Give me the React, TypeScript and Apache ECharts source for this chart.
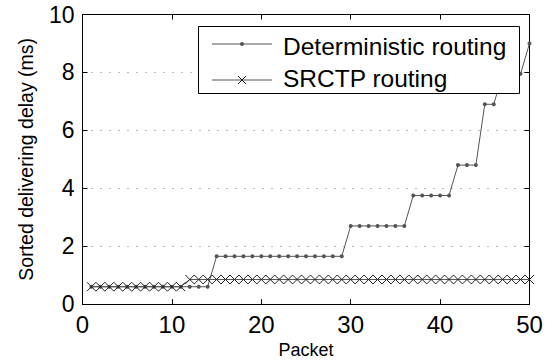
import React, { useEffect, useRef } from "react";
import * as echarts from "echarts";

const xTicks = [0, 10, 20, 30, 40, 50];
const yTicks = [0, 2, 4, 6, 8, 10];
const seriesNames = ["Deterministic routing", "SRCTP routing"];
const deterministic = [
  0.6, 0.6, 0.6, 0.6, 0.6, 0.6, 0.6, 0.6, 0.6, 0.6, 0.6, 0.6, 0.6, 0.6,
  1.65, 1.65, 1.65, 1.65, 1.65, 1.65, 1.65, 1.65, 1.65, 1.65, 1.65, 1.65, 1.65, 1.65, 1.65,
  2.7, 2.7, 2.7, 2.7, 2.7, 2.7, 2.7,
  3.75, 3.75, 3.75, 3.75, 3.75,
  4.8, 4.8, 4.8,
  6.9, 6.9,
  7.95, 7.95, 7.95,
  9.0,
];
const srctp = [
  0.6, 0.6, 0.6, 0.6, 0.6, 0.6, 0.6, 0.6, 0.6, 0.6, 0.6,
  0.85, 0.85, 0.85, 0.85, 0.85, 0.85, 0.85, 0.85, 0.85, 0.85,
  0.85, 0.85, 0.85, 0.85, 0.85, 0.85, 0.85, 0.85, 0.85, 0.85,
  0.85, 0.85, 0.85, 0.85, 0.85, 0.85, 0.85, 0.85, 0.85, 0.85,
  0.85, 0.85, 0.85, 0.85, 0.85, 0.85, 0.85, 0.85, 0.85,
];

const FONT = "'Liberation Sans', Arial, Helvetica, sans-serif";
const LINE = "#555555";
const X_SYMBOL = "path://M0,0L10,10M0,10L10,0";

export default function App() {
  const ref = useRef<HTMLDivElement>(null);
  useEffect(() => {
    if (!ref.current) return;
    document.body.style.margin = "0";
    const chart = echarts.init(ref.current, undefined, { renderer: "svg" });
    const gridBox = { left: 82.5, right: 22.5, top: 14.5, bottom: 58 };
    const xCommon = {
      type: "value" as const,
      min: xTicks[0],
      max: xTicks[xTicks.length - 1],
      interval: 10,
      axisLine: { show: true, onZero: false, lineStyle: { color: "#000", width: 1 } },
      axisTick: { show: true, inside: true, length: 5, lineStyle: { color: "#000" } },
      splitLine: { show: false },
    };
    const yCommon = {
      type: "value" as const,
      min: yTicks[0],
      max: yTicks[yTicks.length - 1],
      interval: 2,
      axisLine: { show: true, onZero: false, lineStyle: { color: "#000", width: 1 } },
      axisTick: { show: true, inside: true, length: 5, lineStyle: { color: "#000" } },
    };
    const Z = 100;
    chart.setOption({
      animation: false,
      backgroundColor: "#fff",
      grid: { ...gridBox, containLabel: false },
      xAxis: [
        {
          ...xCommon,
          position: "bottom",
          name: "Packet",
          nameLocation: "middle",
          nameGap: 36,
          nameTextStyle: { fontFamily: FONT, fontSize: 18, color: "#000" },
          axisLabel: { fontFamily: FONT, fontSize: 24, color: "#000", margin: 8 },
        },
        { ...xCommon, position: "top", axisLabel: { show: false } },
      ],
      yAxis: [
        {
          ...yCommon,
          position: "left",
          name: "Sorted delivering delay (ms)",
          nameLocation: "middle",
          nameGap: 47,
          nameTextStyle: { fontFamily: FONT, fontSize: 19.5, color: "#000" },
          axisLabel: { fontFamily: FONT, fontSize: 23, color: "#000", margin: 8 },
          splitLine: {
            show: true,
            lineStyle: { color: "#777", type: [1, 8], width: 1 },
          },
        },
        {
          ...yCommon,
          position: "right",
          axisLabel: { show: false },
          splitLine: { show: false },
        },
      ],
      series: [
        {
          name: seriesNames[0],
          type: "line",
          data: deterministic.map((v, i) => [i + 1, v]),
          symbol: "circle",
          symbolSize: 4,
          itemStyle: { color: LINE },
          lineStyle: { color: LINE, width: 1 },
          z: 3,
        },
        {
          name: seriesNames[1],
          type: "line",
          data: srctp.map((v, i) => [i + 1, v]),
          symbol: X_SYMBOL,
          symbolSize: 9,
          itemStyle: { color: "none", borderColor: "#222", borderWidth: 1 },
          lineStyle: { color: LINE, width: 1 },
          z: 4,
        },
      ],
      graphic: [
        {
          type: "rect",
          z: Z,
          shape: { x: 198.5, y: 26.5, width: 321, height: 67 },
          style: { fill: "#fff", stroke: "#000", lineWidth: 1 },
        },
        {
          type: "line",
          z: Z + 1,
          shape: { x1: 212, y1: 44, x2: 272, y2: 44 },
          style: { stroke: LINE, lineWidth: 1 },
        },
        {
          type: "circle",
          z: Z + 1,
          shape: { cx: 242, cy: 44, r: 2 },
          style: { fill: LINE },
        },
        {
          type: "text",
          z: Z + 1,
          x: 283,
          y: 46,
          style: {
            text: seriesNames[0],
            font: `24.5px ${FONT}`,
            fill: "#000",
            verticalAlign: "middle",
          },
        },
        {
          type: "line",
          z: Z + 1,
          shape: { x1: 212, y1: 80, x2: 272, y2: 80 },
          style: { stroke: LINE, lineWidth: 1 },
        },
        {
          type: "line",
          z: Z + 1,
          shape: { x1: 238, y1: 76, x2: 246, y2: 84 },
          style: { stroke: "#222", lineWidth: 1 },
        },
        {
          type: "line",
          z: Z + 1,
          shape: { x1: 238, y1: 84, x2: 246, y2: 76 },
          style: { stroke: "#222", lineWidth: 1 },
        },
        {
          type: "text",
          z: Z + 1,
          x: 283,
          y: 78,
          style: {
            text: seriesNames[1],
            font: `24.5px ${FONT}`,
            fill: "#000",
            verticalAlign: "middle",
          },
        },
      ],
    });
    return () => chart.dispose();
  }, []);
  return <div ref={ref} style={{ width: 552, height: 364 }} />;
}
